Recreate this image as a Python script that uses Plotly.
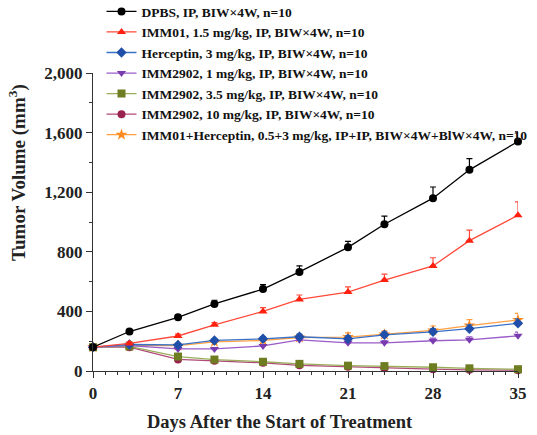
import plotly.graph_objects as go

days = [0, 3, 7, 10, 14, 17, 21, 24, 28, 31, 35]

names = [
    "DPBS, IP, BIW×4W, n=10",
    "IMM01, 1.5 mg/kg, IP, BIW×4W, n=10",
    "Herceptin, 3 mg/kg, IP, BIW×4W, n=10",
    "IMM2902, 1 mg/kg, IP, BIW×4W, n=10",
    "IMM2902, 3.5 mg/kg, IP, BIW×4W, n=10",
    "IMM2902, 10 mg/kg, IP, BIW×4W, n=10",
    "IMM01+Herceptin, 0.5+3 mg/kg, IP+IP, BIW×4W+BlW×4W, n=10",
]

dpbs = [160, 265, 360, 450, 550, 665, 830, 985, 1160, 1350, 1540]
dpbs_err = [8, 12, 15, 25, 30, 40, 40, 55, 75, 75, 65]
imm01 = [160, 185, 235, 310, 400, 480, 530, 610, 705, 875, 1045]
imm01_err = [6, 10, 12, 15, 25, 30, 35, 40, 55, 70, 90]
herceptin = [160, 178, 175, 205, 216, 230, 216, 243, 263, 284, 320]
herceptin_err = [6, 8, 10, 12, 15, 18, 20, 20, 22, 25, 30]
imm2902_1 = [160, 170, 148, 148, 168, 209, 189, 189, 203, 209, 236]
imm2902_1_err = [6, 8, 8, 8, 10, 12, 15, 15, 18, 20, 25]
imm2902_35 = [160, 165, 97, 77, 62, 48, 36, 33, 25, 18, 12]
imm2902_35_err = [6, 8, 8, 6, 6, 5, 5, 4, 4, 3, 3]
imm2902_10 = [160, 160, 78, 68, 55, 38, 28, 18, 12, 8, 5]
imm2902_10_err = [6, 6, 6, 5, 5, 4, 4, 3, 3, 2, 2]
combo = [160, 170, 170, 195, 205, 225, 228, 245, 272, 305, 342]
combo_err = [6, 8, 10, 12, 18, 20, 28, 25, 30, 40, 45]

x_tick_vals = [0, 7, 14, 21, 28, 35]
y_tick_vals = [0, 400, 800, 1200, 1600, 2000]
y_tick_text = ["0", "400", "800", "1,200", "1,600", "2,000"]

series = [
    (dpbs, dpbs_err, "#000000", "#000000", "circle"),
    (imm01, imm01_err, "#ff4a3a", "#ff2010", "triangle-up"),
    (herceptin, herceptin_err, "#3a72c8", "#1f4fa8", "diamond"),
    (imm2902_1, imm2902_1_err, "#9a5cc8", "#7a3ab0", "triangle-down"),
    (imm2902_35, imm2902_35_err, "#9aae5a", "#6f7d22", "square"),
    (imm2902_10, imm2902_10_err, "#b04a7a", "#9a2250", "circle"),
    (combo, combo_err, "#ffa040", "#ff8a20", "star"),
]

draw_order = [6, 5, 4, 3, 2, 1, 0]

fig = go.Figure()
traces = {}
for i in range(7):
    vals, err, lc, mc, sym = series[i]
    traces[i] = go.Scatter(
        x=days, y=vals, name="<b>" + names[i] + "</b>", mode="lines+markers",
        line=dict(color=lc, width=1.3),
        marker=dict(color=mc, symbol=sym, size=8 if sym != "star" else 9, line=dict(width=0)),
        error_y=dict(type="data", array=err, arrayminus=[0] * len(err), symmetric=False,
                     color=lc, thickness=1.2, width=3),
        cliponaxis=False,
        legendrank=i + 1,
    )
for i in draw_order:
    fig.add_trace(traces[i])

font_family = "Liberation Serif, Times New Roman, serif"
ink = "#222222"

fig.update_layout(
    width=537, height=435,
    margin=dict(l=93, r=19, t=73, b=64, autoexpand=False),
    plot_bgcolor="white", paper_bgcolor="white",
    font=dict(family=font_family, color=ink),
    showlegend=True,
    legend=dict(
        x=0.02, y=1.258, xanchor="left", yanchor="top",
        font=dict(family=font_family, size=13.5, color="#111111"),
        bgcolor="rgba(0,0,0,0)", tracegroupgap=0, itemwidth=30,
        traceorder="normal",
    ),
    xaxis=dict(
        range=[0, 35], tickmode="array", tickvals=x_tick_vals,
        ticktext=["<b>%d</b>" % v for v in x_tick_vals],
        ticks="outside", ticklen=6, tickwidth=1.2, tickcolor="#333",
        showline=True, linecolor="#333", linewidth=1.3,
        showgrid=False, zeroline=False,
        tickfont=dict(family=font_family, size=17, color=ink),
        minor=dict(dtick=1, ticks="outside", ticklen=3, tickcolor="#333", tickwidth=1, showgrid=False),
    ),
    yaxis=dict(
        range=[0, 2000], tickmode="array", tickvals=y_tick_vals,
        ticktext=["<b>" + t + "</b>" for t in y_tick_text],
        ticks="outside", ticklen=6, tickwidth=1.2, tickcolor="#333",
        showline=True, linecolor="#333", linewidth=1.3,
        showgrid=False, zeroline=False,
        tickfont=dict(family=font_family, size=17, color=ink),
        minor=dict(dtick=200, ticks="outside", ticklen=3, tickcolor="#333", tickwidth=1, showgrid=False),
    ),
    annotations=[
        dict(text="<b>Tumor Volume (mm<sup>3</sup>)</b>", textangle=-90,
             xref="paper", yref="paper", x=-0.178, y=0.666,
             xanchor="center", yanchor="middle", showarrow=False,
             font=dict(family=font_family, size=19, color=ink)),
        dict(text="<b>Days After the Start of Treatment</b>",
             xref="paper", yref="paper", x=0.44, y=-0.171,
             xanchor="center", yanchor="middle", showarrow=False,
             font=dict(family=font_family, size=18.5, color=ink)),
    ],
)

fig.write_html("out.html")
